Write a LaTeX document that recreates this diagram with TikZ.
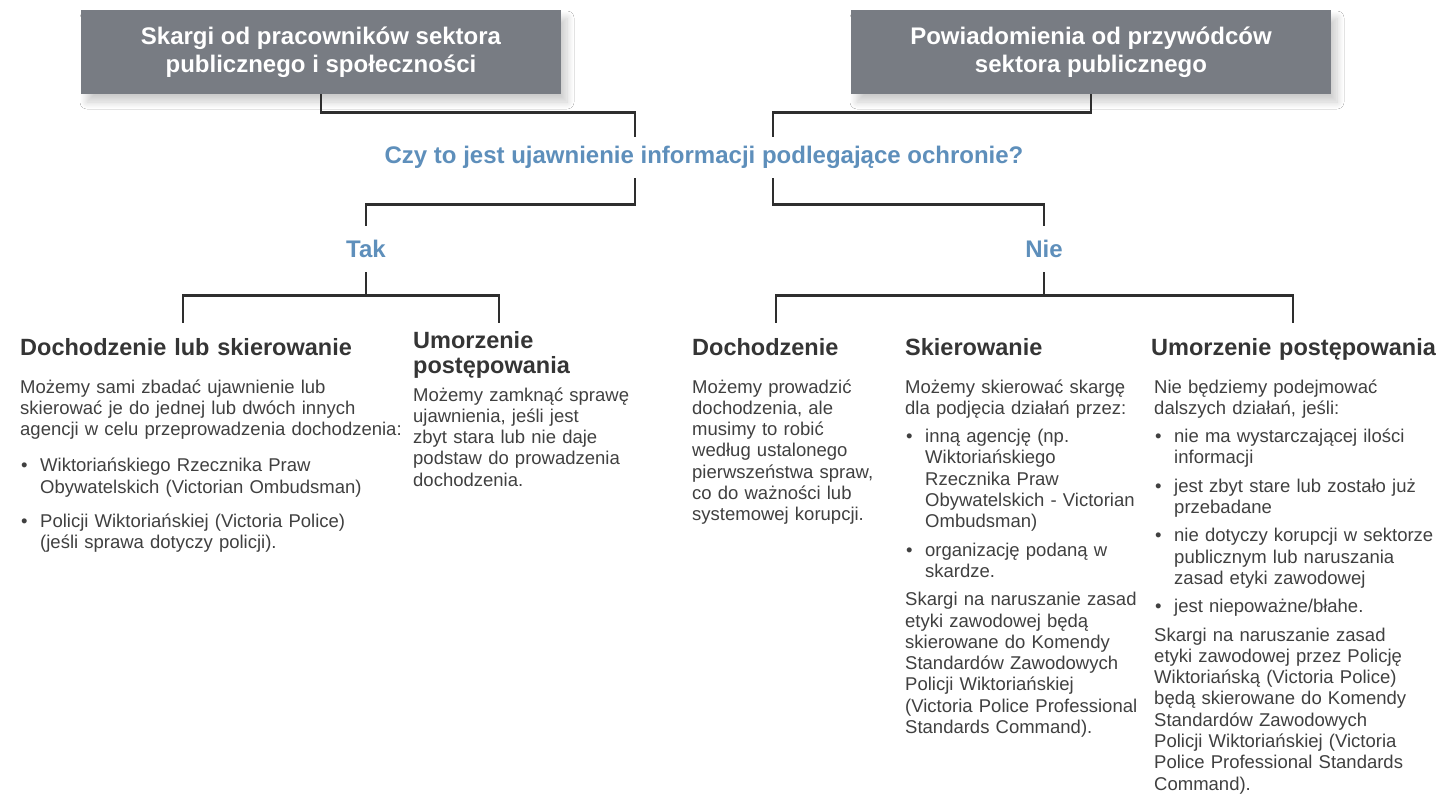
\documentclass[tikz,border=0pt]{standalone}
\usepackage{fontspec}
\setmainfont{Liberation Sans}
\usepackage{xcolor}
\usetikzlibrary{shadows.blur,calc}
\definecolor{boxgray}{HTML}{787C83}
\definecolor{askblue}{HTML}{5E8FBB}
\definecolor{bodytext}{HTML}{404040}
\definecolor{headtext}{HTML}{353535}
\definecolor{linkgray}{HTML}{2E2E2E}
\newcommand{\blt}{\makebox[20pt][l]{\hspace{1pt}•}}
\newcommand{\hng}{\hspace*{20pt}}
\tikzset{
  srcbox/.style = {rectangle, fill=boxgray, text=white, align=center, minimum width=480pt, minimum height=84pt, inner sep=0pt,
                   font=\bfseries\fontsize{24}{28}\selectfont,
                   blur shadow={shadow xshift=6pt, shadow yshift=-8pt, shadow blur radius=7pt, shadow blur steps=12, shadow opacity=20}},
  ask/.style = {inner sep=0pt, text=askblue, font=\bfseries\fontsize{24}{28}\selectfont},
  head/.style = {anchor=base west, align=left, text width=420pt, inner sep=0pt, text=headtext, font=\bfseries\fontsize{23.5}{25}\selectfont},
  body/.style = {anchor=base west, align=left, text width=420pt, inner sep=0pt, text=bodytext, font=\fontsize{18.5}{21.3}\selectfont},
  link/.style = {draw=linkgray, line width=2.6pt},
}

\begin{document}
\begin{tikzpicture}[x=1pt,y=-1pt]
  \useasboundingbox (0,0) rectangle (1437,793);
  \fill[white] (0,0) rectangle (1437,793);

  % sources
  \node[srcbox] (box1) at (321,52) {Skargi od pracowników sektora\\publicznego i społeczności};
  \node[srcbox] (box2) at (1091,52) {Powiadomienia od przywódców\\sektora publicznego};

  % question and answers
  \node[ask, minimum height=41pt] (q) at (704,157.5) {Czy to jest ujawnienie informacji podlegające ochronie?};
  \node[ask, minimum height=46pt] (tak) at (366,249) {Tak};
  \node[ask, minimum height=46pt] (nie) at (1044,249) {Nie};

  \coordinate (qL) at (635,137);
  \coordinate (qR) at (773,137);
  \draw[link] (box1.south) -- ++(0,18) -| (qL);
  \draw[link] (box2.south) -- ++(0,18) -| (qR);
  \draw[link] (q.south -| qL) -- ++(0,26) -| (tak.north);
  \draw[link] (q.south -| qR) -- ++(0,26) -| (nie.north);

  \coordinate (legA) at (183,323);
  \coordinate (legB) at (499,323);
  \coordinate (legC) at (776,323);
  \coordinate (legE) at (1293,323);
  \draw[link] (tak.south) -- ++(0,23) -| (legA);
  \draw[link] (tak.south) -- ++(0,23) -| (legB);
  \draw[link] (nie.south) -- ++(0,23) -| (legC);
  \draw[link] (nie.south) -- ++(0,23) -| (legE);

  % outcomes: Tak
  \node[head] (hA) at (20,355) {Dochodzenie lub skierowanie};
  \node[body] (bA) at (20,393)
    {Możemy sami zbadać ujawnienie lub\\
     skierować je do jednej lub dwóch innych\\
     agencji w celu przeprowadzenia dochodzenia:\\[15pt]
     \blt Wiktoriańskiego Rzecznika Praw\\
     \hng Obywatelskich (Victorian Ombudsman)\\[13pt]
     \blt Policji Wiktoriańskiej (Victoria Police)\\
     \hng (jeśli sprawa dotyczy policji).};

  \node[head] (hB) at (413,348) {Umorzenie\\postępowania};
  \node[body] (bB) at (413,401)
    {Możemy zamknąć sprawę\\
     ujawnienia, jeśli jest\\
     zbyt stara lub nie daje\\
     podstaw do prowadzenia\\
     dochodzenia.};

  % outcomes: Nie
  \node[head] (hC) at (692,355) {Dochodzenie};
  \node[body] (bC) at (692,393)
    {Możemy prowadzić\\
     dochodzenia, ale\\
     musimy to robić\\
     według ustalonego\\
     pierwszeństwa spraw,\\
     co do ważności lub\\
     systemowej korupcji.};

  \node[head] (hD) at (905,355) {Skierowanie};
  \node[body] (bD) at (905,393)
    {Możemy skierować skargę\\
     dla podjęcia działań przez:\\[7pt]
     \blt inną agencję (np.\\
     \hng Wiktoriańskiego\\
     \hng Rzecznika Praw\\
     \hng Obywatelskich - Victorian\\
     \hng Ombudsman)\\[7pt]
     \blt organizację podaną w\\
     \hng skardze.\\[7pt]
     Skargi na naruszanie zasad\\
     etyki zawodowej będą\\
     skierowane do Komendy\\
     Standardów Zawodowych\\
     Policji Wiktoriańskiej\\
     (Victoria Police Professional\\
     Standards Command).};

  \node[head] (hE) at (1151,355) {Umorzenie postępowania};
  \node[body] (bE) at (1154,393)
    {Nie będziemy podejmować\\
     dalszych działań, jeśli:\\[7pt]
     \blt nie ma wystarczającej ilości\\
     \hng informacji\\[7pt]
     \blt jest zbyt stare lub zostało już\\
     \hng przebadane\\[7pt]
     \blt nie dotyczy korupcji w sektorze\\
     \hng publicznym lub naruszania\\
     \hng zasad etyki zawodowej\\[7pt]
     \blt jest niepoważne/błahe.\\[7pt]
     Skargi na naruszanie zasad\\
     etyki zawodowej przez Policję\\
     Wiktoriańską (Victoria Police)\\
     będą skierowane do Komendy\\
     Standardów Zawodowych\\
     Policji Wiktoriańskiej (Victoria\\
     Police Professional Standards\\
     Command).};
\end{tikzpicture}
\end{document}
